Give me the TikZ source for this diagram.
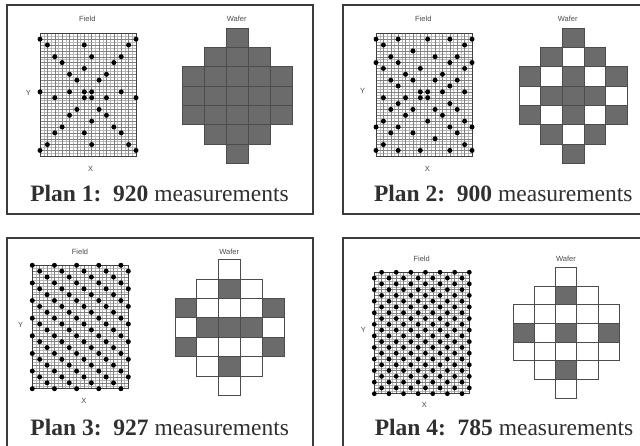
\documentclass[tikz,border=0pt]{standalone}
\usepackage{fontspec}
\setmainfont{Liberation Serif}
\newfontfamily\sansf{Liberation Sans}
\definecolor{framec}{HTML}{3C3C3C}
\definecolor{wgray}{HTML}{6B6B6B}
\definecolor{txt}{HTML}{303030}
\tikzset{
 panel/.style={draw=framec, line width=2.3pt},
 gmaj/.style={draw=black!50, line width=0.4pt},
 gmin/.style={draw=black!28, line width=0.35pt},
 gborder/.style={draw=black!75, line width=0.9pt},
 cellbox/.style={draw=black!70, line width=0.9pt},
 small/.style={font=\sansf\fontsize{7.5}{8}\selectfont, text=black!70, inner sep=0pt},
 title/.style={font=\fontsize{23.5}{26}\selectfont, text=txt, inner sep=0pt, anchor=base},
 dotc/.style={fill=black},
}
\newcommand{\FieldGrid}[4]{%
 \foreach \i in {1,3,...,25} \draw[gmin] ({#1+\i*#3/26},#2) -- ({#1+\i*#3/26},{#2+#4});
 \foreach \j in {1,3,...,41} \draw[gmin] (#1,{#2+\j*#4/42}) -- ({#1+#3},{#2+\j*#4/42});
 \foreach \i in {2,4,...,24} \draw[gmaj] ({#1+\i*#3/26},#2) -- ({#1+\i*#3/26},{#2+#4});
 \foreach \j in {2,4,...,40} \draw[gmaj] (#1,{#2+\j*#4/42}) -- ({#1+#3},{#2+\j*#4/42});
 \draw[gborder] (#1,#2) rectangle ({#1+#3},{#2+#4});
}
\newcommand{\FieldDots}[5]{%
 \foreach \c/\r in {#5} \fill[dotc] ({#1+\c*#3/13},{#2+\r*#4/21}) circle (2.5pt);
}
\newcommand{\Wafer}[5]{%
 \foreach \c/\r in {#5} \fill[wgray] ({#1+\c*#3},{#2+\r*#4}) rectangle ({#1+(\c+1)*#3},{#2+(\r+1)*#4});
 \foreach \c/\r in {2/0,1/1,2/1,3/1,0/2,1/2,2/2,3/2,4/2,0/3,1/3,2/3,3/3,4/3,0/4,1/4,2/4,3/4,4/4,1/5,2/5,3/5,2/6}
   \draw[cellbox] ({#1+\c*#3},{#2+\r*#4}) rectangle ({#1+(\c+1)*#3},{#2+(\r+1)*#4});
}
\begin{document}
\begin{tikzpicture}[x=1pt,y=-1pt]
\useasboundingbox (0,0) rectangle (640,446);
\clip (0,0) rectangle (640,446);
\fill[white] (0,0) rectangle (640,446);
% ---------- Plan 1
\draw[panel] (7,5) rectangle (313,214);
\FieldGrid{40}{33.3}{96}{123}
\FieldDots{40}{33.3}{96}{123}{0/1,13/1,1/2,6/2,12/2,2/4,7/4,11/4,3/5,10/5,6/6,4/7,9/7,5/8,8/8,
 0/10,4/10,6/10,7/10,11/10,2/11,6/11,7/11,9/11,13/11,5/13,8/13,4/14,9/14,7/15,3/16,10/16,
 2/17,6/17,11/17,1/19,7/19,12/19,0/20,13/20}
\Wafer{182.7}{28.3}{22}{19.3}{2/0,1/1,2/1,3/1,0/2,1/2,2/2,3/2,4/2,0/3,1/3,2/3,3/3,4/3,0/4,1/4,2/4,3/4,4/4,1/5,2/5,3/5,2/6}
\node[small] (f1) at (87.3,19.3) {Field};
\node[small] (w1) at (236.7,19.3) {Wafer};
\node[small] (y1) at (28.3,92.7) {Y};
\node[small] (x1) at (90.7,169.3) {X};
\node[title] (t1) at (159.5,202) {\textbf{Plan 1:\ \ 920} measurements};
% ---------- Plan 2
\draw[panel] (343,5) rectangle (650,214);
\FieldGrid{376}{33.3}{96}{123}
\FieldDots{376}{33.3}{96}{123}{0/1,3/1,7/1,10/1,13/1,1/2,12/2,5/3,2/4,8/4,11/4,0/5,3/5,10/5,13/5,
 1/6,6/6,12/6,4/7,9/7,2/8,5/8,8/8,11/8,3/9,10/9,6/10,7/10,9/10,12/10,1/11,4/11,6/11,7/11,
 3/12,10/12,2/13,5/13,8/13,11/13,4/14,9/14,1/15,7/15,12/15,0/16,3/16,10/16,13/16,
 2/17,5/17,11/17,8/18,1/19,12/19,0/20,3/20,6/20,10/20,13/20}
\Wafer{519.3}{28.3}{21.6}{19.3}{2/0,1/1,3/1,0/2,2/2,4/2,1/3,2/3,3/3,0/4,2/4,4/4,1/5,3/5,2/6}
\node[small] (f2) at (423.3,19.3) {Field};
\node[small] (w2) at (567.7,19.3) {Wafer};
\node[small] (y2) at (362.7,90.7) {Y};
\node[small] (x2) at (427.3,169.3) {X};
\node[title] (t2) at (503.3,202) {\textbf{Plan 2:\ \ 900} measurements};
% ---------- Plan 3
\draw[panel] (7,238) rectangle (313,448);
\FieldGrid{32.3}{265.3}{96}{123.4}
\foreach \r in {0,...,21}{\foreach \c in {0,...,13}{%
  \pgfmathtruncatemacro{\m}{mod(\c-\r+33,3)}%
  \ifnum\m=0 \fill[dotc] ({32.3+\c*96/13},{265.3+\r*123.4/21}) circle (2.5pt);\fi}}
\Wafer{175}{259.7}{21.9}{19.4}{2/1,0/2,4/2,1/3,2/3,3/3,0/4,4/4,2/5}
\node[small] (f3) at (80,252) {Field};
\node[small] (w3) at (229.3,252) {Wafer};
\node[small] (y3) at (20.7,324.7) {Y};
\node[small] (x3) at (84,401.3) {X};
\node[title] (t3) at (159.7,435) {\textbf{Plan 3:\ \ 927} measurements};
% ---------- Plan 4
\draw[panel] (343,238) rectangle (650,448);
\FieldGrid{374.3}{272.3}{95}{121.4}
\foreach \r in {0,...,21}{\foreach \c in {0,...,13}{%
  \pgfmathtruncatemacro{\m}{mod(\c+\r+1,2)}%
  \ifnum\m=0 \fill[dotc] ({374.3+\c*95/13},{272.3+\r*121.4/21}) circle (2.4pt);\fi}}
\Wafer{513.3}{267.3}{21.2}{18.7}{2/1,0/3,2/3,4/3,2/5}
\node[small] (f4) at (421.7,259) {Field};
\node[small] (w4) at (566,259) {Wafer};
\node[small] (y4) at (363.3,330.3) {Y};
\node[small] (x4) at (424.3,404.7) {X};
\node[title] (t4) at (504,435) {\textbf{Plan 4:\ \ 785} measurements};
\end{tikzpicture}
\end{document}
